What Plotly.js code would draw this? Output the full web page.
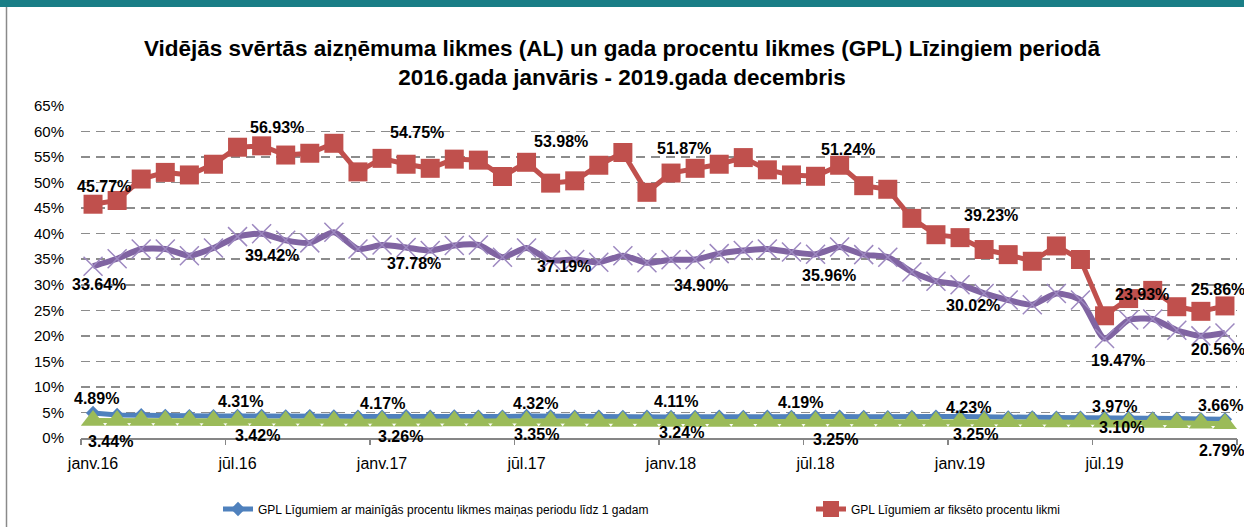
<!DOCTYPE html>
<html><head><meta charset="utf-8">
<script src="https://cdn.plot.ly/plotly-3.0.1.min.js"></script>
<style>html,body{margin:0;padding:0;background:#fff;overflow:hidden;} #chart{width:1244px;height:527px;}</style>
</head><body><div id="chart"></div>
<script>
// ---- data ----
const monthNames = ["janv.","febr.","marts","apr.","maijs","jūn.","jūl.","aug.","sept.","okt.","nov.","dec."];
const years = ["16","17","18","19"];
const months = [];
years.forEach(y => monthNames.forEach(m => months.push(m + y)));
const tickLabels = ["janv.16","jūl.16","janv.17","jūl.17","janv.18","jūl.18","janv.19","jūl.19"];

const seriesNames = [
  "GPL Līgumiem ar mainīgās procentu likmes maiņas periodu līdz 1 gadam",
  "GPL Līgumiem ar fiksēto procentu likmi",
  "AL Līgumiem ar fiksēto procentu likmi",
  "AL Līgumiem ar mainīgās procentu likmes maiņas periodu līdz 1 gadam"
];
const gplVariable = [4.89,4.50,4.45,4.35,4.30,4.30,4.31,4.35,4.25,4.30,4.25,4.20,4.17,4.30,4.20,4.25,4.20,4.20,4.32,4.25,4.20,4.20,4.15,4.20,4.11,4.15,4.20,4.15,4.20,4.15,4.19,4.20,4.15,4.10,4.15,4.20,4.23,4.10,4.05,4.05,4.00,4.00,3.97,3.95,3.85,3.80,3.70,3.66];
const gplFixed = [45.77,46.5,50.7,52.0,51.5,53.6,56.93,57.2,55.4,55.75,57.7,52.1,54.75,53.6,52.8,54.6,54.4,51.2,53.98,49.9,50.35,53.4,55.9,48.1,51.87,52.8,53.6,54.9,52.5,51.5,51.24,53.4,49.4,48.7,43.0,39.8,39.23,36.9,35.9,34.6,37.6,34.95,23.93,27.3,28.9,25.7,24.8,25.86];
const alFixed = [33.64,35.1,37.0,37.0,35.7,37.2,39.42,40.0,38.7,38.2,40.3,37.0,37.78,37.3,36.7,37.7,37.8,35.4,37.19,34.8,34.95,34.4,35.7,34.3,34.90,34.95,36.1,36.7,37.0,36.4,35.96,37.4,35.9,35.4,32.5,30.7,30.02,28.3,27.0,26.1,28.3,27.0,19.47,23.1,23.3,21.1,20.0,20.56];
const alVariable = [3.44,3.45,3.45,3.45,3.42,3.40,3.42,3.40,3.35,3.35,3.30,3.30,3.26,3.30,3.30,3.32,3.32,3.33,3.35,3.30,3.28,3.25,3.25,3.25,3.24,3.25,3.25,3.25,3.25,3.25,3.25,3.25,3.25,3.25,3.25,3.25,3.25,3.20,3.20,3.20,3.15,3.12,3.10,3.10,3.05,3.00,2.90,2.79];
const labelIdx = [0,6,12,18,24,30,36,42,47];

// ---- layout constants ----
const W = 1244, H = 527, ML = 81, MR = 7, MT = 106, MB = 89;
const PW = W - ML - MR, PH = H - MT - MB;
const px = p => (p - ML) / PW;
const py = p => (H - MB - p) / PH;

// label offsets in pixels [dx, dy] (dy down)
const offsets = {
  blue:   [[3,-15],[3,-14],[0,-13],[9,-12],[5,-16],[-15,-14],[8,-9],[10,-11],[-4,-14]],
  red:    [[11,-18],[39,-20],[35,-26],[34,-21],[13,-25],[32,-27],[31,-22],[37,-21],[-7,-16]],
  purple: [[6,18],[34,19],[32,18],[37,18],[30,26],[13,21],[13,21],[13,22],[-7,17]],
  green:  [[17,21],[20,15],[18,15],[10,14],[10,11],[20,18],[15,13],[17,5],[-3,27]]
};

const FONT = "Liberation Sans, Arial, sans-serif";

const traces = [
  {x: months, y: gplVariable, name: seriesNames[0], type:'scatter', mode:'lines+markers', legend:'legend',
   line:{color:'#4F81BD', width:5}, marker:{symbol:'diamond', size:11, color:'#4F81BD'}},
  {x: months, y: gplFixed, name: seriesNames[1], type:'scatter', mode:'lines+markers', legend:'legend2',
   line:{color:'#C0504D', width:5}, marker:{symbol:'square', size:19, color:'#C0504D'}},
  {x: months, y: alFixed, name: seriesNames[2], type:'scatter', mode:'lines+markers', showlegend:false,
   line:{color:'#8064A2', width:6, shape:'spline', smoothing:0.6},
   marker:{symbol:'x-thin', size:19, color:'#9D88C0', line:{color:'#9D88C0', width:1.5}}},
  {x: months, y: alVariable, name: seriesNames[3], type:'scatter', mode:'lines+markers', showlegend:false,
   line:{color:'#9BBB59', width:5}, marker:{symbol:'triangle-up', size:21, color:'#9BBB59'}},
  {x: [], y: [], xaxis:'x2', yaxis:'y', type:'scatter', showlegend:false, hoverinfo:'skip'}
];

const annotations = [];
function addLabels(arr, offs) {
  labelIdx.forEach((i, k) => {
    annotations.push({x: months[i], y: arr[i], xref:'x', yref:'y', text:'<b>' + arr[i].toFixed(2) + '%</b>',
      showarrow:false, xanchor:'center', yanchor:'middle', xshift: offs[k][0], yshift: -offs[k][1],
      font:{family:FONT, size:16, color:'#000'}});
  });
}
addLabels(gplVariable, offsets.blue);
addLabels(gplFixed, offsets.red);
addLabels(alFixed, offsets.purple);
addLabels(alVariable, offsets.green);

const boundaryTicks = [];
for (let b = -0.5; b <= 47.5; b += 6) boundaryTicks.push(b);
boundaryTicks.push(47.5);

const legendStyle = {orientation:'h', xref:'container', yref:'container', xanchor:'left', y: 1 - 509/H, yanchor:'middle',
  font:{family:FONT, size:12, color:'#000'}, bgcolor:'rgba(0,0,0,0)'};

const layout = {
  width: W, height: H,
  margin: {l: ML, r: MR, t: MT, b: MB, pad: 0},
  paper_bgcolor: '#fff', plot_bgcolor: '#fff',
  font: {family: FONT, color: '#000'},
  title: {text: '<b>Vidējās svērtās aizņēmuma likmes (AL) un gada procentu likmes (GPL) Līzingiem periodā<br>2016.gada janvāris - 2019.gada decembris</b>',
    font: {family: FONT, size: 22.5, color: '#000'}, x: 0.5, xref: 'container', xanchor: 'center',
    y: 1 - 56/H, yref: 'container', yanchor: 'top'},
  xaxis: {type:'category', range:[-0.5, 47.5], tickvals: tickLabels, ticktext: tickLabels, ticks:'',
    showgrid:false, showline:true, linecolor:'#868686', linewidth:1.5, zeroline:false,
    tickfont:{family:FONT, size:16, color:'#000'}, ticklabelstandoff: 10, fixedrange:true},
  xaxis2: {overlaying:'x', anchor:'y', side:'bottom', type:'linear', range:[-0.5, 47.5], tickvals: boundaryTicks,
    ticks:'outside', ticklen:6, tickwidth:1.5, tickcolor:'#868686', showticklabels:false, showgrid:false,
    showline:false, zeroline:false},
  yaxis: {range:[0, 65], dtick:5, ticksuffix:'%', showgrid:true, gridcolor:'#8c8c8c', gridwidth:1.5,
    griddash:'9px,6px', zeroline:false, showline:false, ticks:'', tickfont:{family:FONT, size:15, color:'#000'},
    ticklabelstandoff: 16},
  showlegend: true,
  legend: Object.assign({}, legendStyle, {x: 218/W}),
  legend2: Object.assign({}, legendStyle, {x: 811/W}),
  annotations: annotations,
  shapes: [
    {type:'rect', xref:'paper', yref:'paper', x0: px(0), x1: px(W), y0: py(7), y1: py(0), fillcolor:'#1A7E86', line:{width:0}, layer:'above'},
    {type:'line', xref:'paper', yref:'paper', x0: px(6.5), x1: px(6.5), y0: py(7), y1: py(H), line:{color:'#8a8a8a', width:1.5}}
  ],
  hovermode: false
};

Plotly.newPlot('chart', traces, layout, {displayModeBar:false, staticPlot:true});
</script>
</body></html>
